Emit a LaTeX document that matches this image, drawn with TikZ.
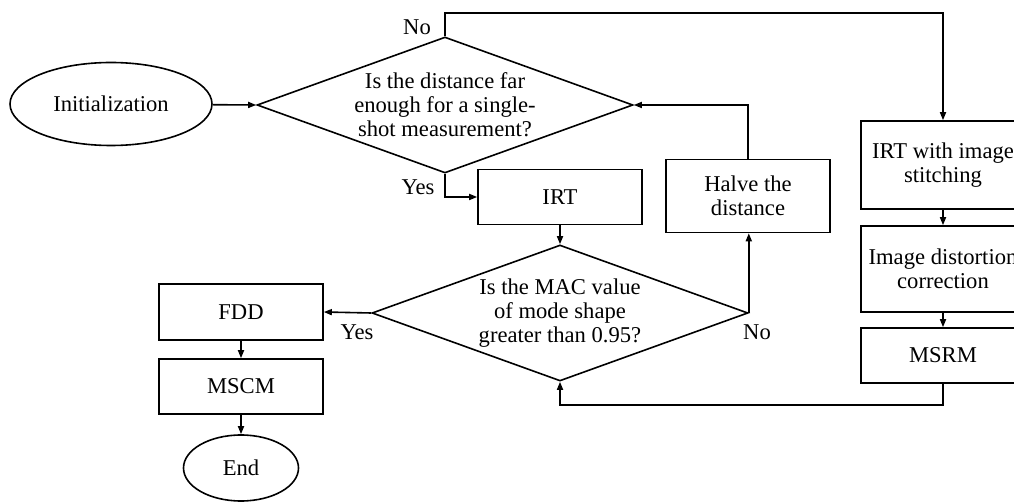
\documentclass[tikz,border=0pt]{standalone}
\usepackage{fontspec}
\setmainfont{Liberation Serif}
\usetikzlibrary{shapes.geometric,arrows.meta}

\begin{document}
\begin{tikzpicture}[x=0.5pt,y=-0.5pt,
    every node/.style={font=\fontsize{11.3}{12}\selectfont},
    box/.style={draw,line width=0.8pt,minimum width=82pt,align=center,inner sep=0pt},
    oval/.style={draw,line width=0.8pt,ellipse,inner sep=0pt},
    query/.style={draw,line width=0.8pt,diamond,aspect=2.765,minimum width=188pt,minimum height=68pt,
      inner sep=0pt,align=center},
    flow/.style={line width=0.8pt,-{Triangle[length=4pt,width=3pt]}}]
  \clip (0,0) rectangle (1014,502);
  \node[oval,minimum width=101pt,minimum height=41.5pt] (init) at (111,104) {Initialization};
  \node[query] (dist) at (445,105) {Is the distance far\\enough for a single-\\shot measurement?};
  \node[box,minimum height=27.5pt] (irt) at (560,197) {IRT};
  \node[box,minimum height=36.5pt] (halve) at (748,196) {Halve the\\distance};
  \node[query] (mac) at (560,313) {Is the MAC value\\of mode shape\\greater than 0.95?};
  \node[box,minimum height=44pt] (stitch) at (943,165) {IRT with image\\stitching};
  \node[box,minimum height=43pt] (distort) at (943,269) {Image distortion\\correction};
  \node[box,minimum height=27.5pt] (msrm) at (943,355.5) {MSRM};
  \node[box,minimum height=28pt] (fdd) at (241,312) {FDD};
  \node[box,minimum height=27.5pt] (mscm) at (241,386.5) {MSCM};
  \node[oval,minimum width=57.5pt,minimum height=33pt] (fin) at (241,468) {End};

  \node (no1) at (417,27) {No};
  \node (yes1) at (418,187) {Yes};
  \node (yes2) at (357,332) {Yes};
  \node (no2) at (757,332) {No};

  \draw[flow] (init) -- (dist.west);
  \draw[flow] (dist.north) -- ++(0,-23) -| (stitch.north);
  \draw[flow] (dist.south) |- (irt.west);
  \draw[flow] (irt) -- (mac.north);
  \draw[flow] (mac.east) -- (mac.east |- halve.south);
  \draw[flow] (halve.north) |- (dist.east);
  \draw[flow] (stitch) -- (distort);
  \draw[flow] (distort) -- (msrm);
  \draw[flow] (msrm.south) -- ++(0,21) -| (mac.south);
  \draw[flow] (mac.west) -- (fdd.east);
  \draw[flow] (fdd) -- (mscm);
  \draw[flow] (mscm) -- (fin);
\end{tikzpicture}
\end{document}
